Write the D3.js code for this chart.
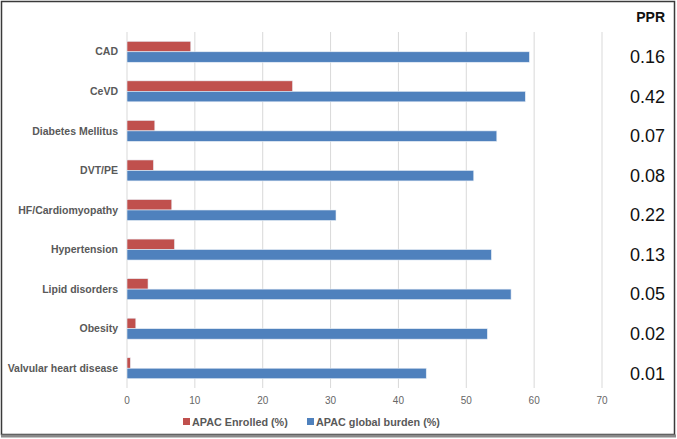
<!DOCTYPE html>
<meta charset="utf-8">
<script src="https://d3js.org/d3.v7.min.js"></script>
<style>
  body { margin: 0; background: #fff; }
  text { font-family: Arial, "Liberation Sans", sans-serif; }
</style>
<div id="chart"></div>
<script>
  // chart data
  const categories = ["CAD", "CeVD", "Diabetes Mellitus", "DVT/PE", "HF/Cardiomyopathy",
    "Hypertension", "Lipid disorders", "Obesity", "Valvular heart disease"];
  const enrolled = [9.4, 24.4, 4.1, 3.9, 6.6, 7.0, 3.1, 1.3, 0.5];
  const burden = [59.3, 58.7, 54.5, 51.1, 30.8, 53.7, 56.6, 53.1, 44.1];
  const ppr = ["0.16", "0.42", "0.07", "0.08", "0.22", "0.13", "0.05", "0.02", "0.01"];
  const xTicks = [0, 10, 20, 30, 40, 50, 60, 70];
  const seriesNames = ["APAC Enrolled (%)", "APAC global burden (%)"];
  const seriesColors = ["#C0504D", "#4F81BD"];

  const W = 677, H = 439;
  const margin = {top: 32, left: 127, right: 74, bottom: 51};

  const svg = d3.select("#chart").append("svg")
    .attr("width", W).attr("height", H);

  // outer frame
  svg.append("rect")
    .attr("x", 1.5).attr("y", 1.5)
    .attr("width", 673).attr("height", 433)
    .attr("fill", "none").attr("stroke", "#3a3a3a").attr("stroke-width", 1.5);
  svg.append("line")
    .attr("x1", 1).attr("x2", 676).attr("y1", 436).attr("y2", 436)
    .attr("stroke", "#8a8a8a").attr("stroke-width", 3);

  const x = d3.scaleLinear().domain([0, 70]).range([margin.left, W - margin.right - 1]);
  const y = d3.scaleBand().domain(categories)
    .range([margin.top, H - margin.bottom]).paddingInner(0.47).paddingOuter(0.235);

  // gridlines
  svg.append("g").selectAll("line")
    .data(xTicks)
    .join("line")
      .attr("x1", d => x(d)).attr("x2", d => x(d))
      .attr("y1", margin.top).attr("y2", H - margin.bottom)
      .attr("stroke", "#d9d9d9").attr("stroke-width", 1);

  // tick labels
  svg.append("g").selectAll("text")
    .data(xTicks)
    .join("text")
      .attr("x", d => x(d)).attr("y", 404)
      .attr("text-anchor", "middle")
      .attr("font-size", 10).attr("fill", "#666")
      .text(d => d);

  // bars
  const rows = categories.map((c, i) => ({c, vals: [enrolled[i], burden[i]]}));
  const bh = y.bandwidth() / 2;
  const g = svg.append("g").selectAll("g")
    .data(rows)
    .join("g")
      .attr("transform", d => `translate(0,${y(d.c)})`);
  g.selectAll("rect")
    .data(d => d.vals)
    .join("rect")
      .attr("x", x(0))
      .attr("y", (d, j) => j * bh)
      .attr("width", d => x(d) - x(0))
      .attr("height", bh)
      .attr("fill", (d, j) => seriesColors[j])
      .attr("stroke", "#e8eef6").attr("stroke-width", 0.6);

  // category labels
  svg.append("g").selectAll("text")
    .data(categories)
    .join("text")
      .attr("x", 118)
      .attr("y", d => y(d) + y.bandwidth() / 2)
      .attr("dy", "0.35em")
      .attr("text-anchor", "end")
      .attr("font-size", 10.5).attr("font-weight", "bold").attr("fill", "#595959")
      .text(d => d);

  // PPR column
  svg.append("text")
    .attr("x", 665).attr("y", 22)
    .attr("text-anchor", "end")
    .attr("font-size", 14).attr("font-weight", "bold").attr("fill", "#111")
    .text("PPR");
  svg.append("g").selectAll("text")
    .data(ppr)
    .join("text")
      .attr("x", 665)
      .attr("y", (d, i) => y(categories[i]) + y.bandwidth() / 2 + 5)
      .attr("dy", "0.35em")
      .attr("text-anchor", "end")
      .attr("font-size", 18).attr("fill", "#111")
      .text(d => d);

  // legend
  const legX = [183, 307];
  const leg = svg.append("g").selectAll("g")
    .data(seriesNames)
    .join("g")
      .attr("transform", (d, i) => `translate(${legX[i]},422)`);
  leg.append("rect")
    .attr("x", 0).attr("y", -4).attr("width", 7).attr("height", 7)
    .attr("fill", (d, i) => seriesColors[i]);
  leg.append("text")
    .attr("x", 9).attr("y", 0).attr("dy", "0.35em")
    .attr("font-size", 10.8).attr("font-weight", "bold").attr("fill", "#595959")
    .text(d => d);
</script>
